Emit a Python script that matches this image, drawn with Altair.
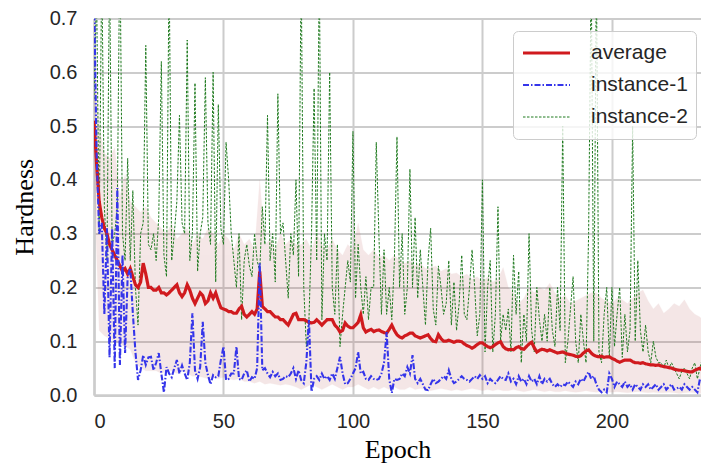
import altair as alt
import pandas as pd

# ---- data ----
series_names = ["average", "instance-1", "instance-2"]

avg = [
    0.51, 0.43, 0.36, 0.33, 0.31, 0.30, 0.28, 0.27, 0.26, 0.25,
    0.24, 0.23, 0.235, 0.225, 0.235, 0.22, 0.205, 0.20, 0.21, 0.245,
    0.225, 0.20, 0.20, 0.195, 0.195, 0.20, 0.19, 0.19, 0.186, 0.19,
    0.195, 0.20, 0.205, 0.19, 0.183, 0.19, 0.205, 0.195, 0.18, 0.17,
    0.18, 0.19, 0.185, 0.17, 0.175, 0.19, 0.18, 0.19, 0.175, 0.162,
    0.16, 0.158, 0.155, 0.155, 0.152, 0.152, 0.16, 0.165, 0.15, 0.145,
    0.15, 0.155, 0.15, 0.16, 0.23, 0.165, 0.16, 0.155, 0.155, 0.15,
    0.145, 0.145, 0.14, 0.14, 0.135, 0.13, 0.14, 0.15, 0.152, 0.14,
    0.14, 0.14, 0.138, 0.135, 0.134, 0.135, 0.14, 0.135, 0.13, 0.135,
    0.14, 0.14, 0.14, 0.13, 0.125, 0.117, 0.12, 0.134, 0.128, 0.125,
    0.125, 0.13, 0.135, 0.149, 0.125, 0.117, 0.12, 0.122, 0.118, 0.12,
    0.121, 0.118, 0.116, 0.115, 0.122, 0.13, 0.12, 0.112, 0.108, 0.106,
    0.11, 0.112, 0.115, 0.115, 0.11, 0.108, 0.106, 0.108, 0.11, 0.112,
    0.105, 0.10, 0.099, 0.112, 0.105, 0.10, 0.10, 0.102, 0.10, 0.098,
    0.10, 0.10, 0.099, 0.095, 0.092, 0.09, 0.087, 0.09, 0.094, 0.097,
    0.097, 0.093, 0.09, 0.088, 0.09, 0.094, 0.097, 0.099, 0.09, 0.086,
    0.084, 0.085, 0.084, 0.088, 0.09, 0.086, 0.085, 0.09, 0.095, 0.098,
    0.088, 0.08, 0.083, 0.085, 0.084, 0.082, 0.084, 0.082, 0.08, 0.078,
    0.079, 0.08, 0.078, 0.076, 0.075, 0.074, 0.072, 0.071, 0.073, 0.078,
    0.082, 0.084, 0.078, 0.074, 0.072, 0.071, 0.072, 0.07, 0.071, 0.071,
    0.068, 0.066, 0.063, 0.061, 0.063, 0.065, 0.065, 0.065, 0.062, 0.06,
    0.06, 0.059, 0.06, 0.058, 0.057, 0.056, 0.056, 0.055, 0.056, 0.054,
    0.053, 0.052, 0.051, 0.05, 0.048, 0.047, 0.046, 0.046, 0.045, 0.044,
    0.043, 0.043, 0.046, 0.048, 0.05, 0.046, 0.042, 0.041,
]

inst1 = [
    0.75, 0.45, 0.30, 0.32, 0.15, 0.31, 0.07, 0.31, 0.05, 0.385,
    0.056, 0.26, 0.078, 0.22, 0.236, 0.152, 0.08, 0.028, 0.046, 0.074,
    0.056, 0.07, 0.071, 0.046, 0.06, 0.078, 0.04, 0.005, 0.052, 0.04,
    0.033, 0.05, 0.065, 0.04, 0.055, 0.04, 0.028, 0.06, 0.152, 0.046,
    0.03, 0.052, 0.136, 0.06, 0.037, 0.02, 0.037, 0.033, 0.035, 0.065,
    0.09, 0.028, 0.03, 0.04, 0.04, 0.09, 0.03, 0.028, 0.04, 0.046,
    0.025, 0.033, 0.03, 0.05, 0.245, 0.046, 0.05, 0.04, 0.033, 0.043,
    0.035, 0.04, 0.028, 0.03, 0.035, 0.033, 0.04, 0.05, 0.03, 0.046,
    0.028, 0.022, 0.061, 0.14, 0.006, 0.03, 0.035, 0.028, 0.04, 0.03,
    0.035, 0.028, 0.04, 0.03, 0.05, 0.071, 0.04, 0.02, 0.022, 0.03,
    0.04, 0.05, 0.08, 0.04, 0.043, 0.03, 0.028, 0.035, 0.03, 0.028,
    0.03, 0.04, 0.06, 0.117, 0.03, 0.004, 0.03, 0.028, 0.03, 0.04,
    0.035, 0.052, 0.04, 0.074, 0.03, 0.022, 0.03, 0.02, 0.01, 0.009,
    0.02, 0.03, 0.022, 0.025, 0.03, 0.035, 0.03, 0.046, 0.03, 0.022,
    0.025, 0.03, 0.035, 0.03, 0.028, 0.025, 0.03, 0.035, 0.03, 0.037,
    0.03, 0.035, 0.022, 0.03, 0.025, 0.022, 0.028, 0.035, 0.03, 0.028,
    0.04, 0.025, 0.03, 0.02, 0.035, 0.025, 0.03, 0.02, 0.035, 0.025,
    0.03, 0.02, 0.035, 0.02, 0.03, 0.025, 0.03, 0.02, 0.015, 0.02,
    0.015, 0.02, 0.018, 0.025, 0.02, 0.015, 0.025, 0.02, 0.03, 0.025,
    0.035, 0.043, 0.03, 0.035, 0.02, 0.01, 0.005, 0.01, 0.005, 0.04,
    0.03, 0.015, 0.025, 0.02, 0.015, 0.025, 0.015, 0.02, 0.01, 0.02,
    0.015, 0.01, 0.02, 0.015, 0.02, 0.01, 0.015, 0.02, 0.01, 0.015,
    0.02, 0.01, 0.015, 0.02, 0.01, 0.012, 0.015, 0.01, 0.02, 0.015,
    0.01, 0.015, 0.01, 0.005, 0.03, 0.028, 0.01, 0.015,
]

inst2 = [
    0.55, 0.75, 0.30, 0.80, 0.35, 0.25, 0.80, 0.28, 0.30, 0.35,
    0.85, 0.30, 0.25, 0.44, 0.25, 0.38, 0.20, 0.13, 0.30, 0.32,
    0.65, 0.28, 0.27, 0.30, 0.25, 0.33, 0.62, 0.26, 0.22, 0.80,
    0.25, 0.30, 0.36, 0.52, 0.32, 0.30, 0.66, 0.25, 0.30, 0.58,
    0.23, 0.30, 0.33, 0.59, 0.32, 0.28, 0.60, 0.21, 0.54, 0.31,
    0.28, 0.47, 0.40, 0.30, 0.25, 0.20, 0.30, 0.14, 0.25, 0.28,
    0.24, 0.22, 0.30, 0.25, 0.23, 0.35, 0.28, 0.52, 0.25, 0.30,
    0.21, 0.56, 0.30, 0.32, 0.25, 0.18, 0.30, 0.26, 0.40, 0.22,
    0.80, 0.20, 0.09, 0.14, 0.30, 0.57, 0.25, 0.80, 0.14, 0.30,
    0.25, 0.60, 0.20, 0.15, 0.28, 0.09, 0.15, 0.20, 0.25, 0.21,
    0.49, 0.18, 0.28, 0.20, 0.15, 0.22, 0.14, 0.20, 0.20, 0.47,
    0.30, 0.15, 0.27, 0.15, 0.20, 0.14, 0.25, 0.48, 0.20, 0.30,
    0.15, 0.20, 0.42, 0.20, 0.33, 0.18, 0.27, 0.20, 0.13, 0.25,
    0.31, 0.16, 0.13, 0.24, 0.20, 0.15, 0.17, 0.25, 0.13, 0.21,
    0.12, 0.17, 0.26, 0.15, 0.14, 0.20, 0.27, 0.20, 0.11, 0.15,
    0.40, 0.08, 0.20, 0.25, 0.08, 0.15, 0.35, 0.10, 0.15, 0.12,
    0.16, 0.08, 0.26, 0.15, 0.23, 0.06, 0.15, 0.10, 0.30, 0.12,
    0.08, 0.20, 0.14, 0.10, 0.15, 0.10, 0.20, 0.12, 0.09, 0.20,
    0.12, 0.50, 0.06, 0.10, 0.16, 0.22, 0.10, 0.06, 0.15, 0.10,
    0.06, 0.30, 0.80, 0.10, 0.80, 0.08, 0.06, 0.15, 0.20, 0.07,
    0.20, 0.09, 0.15, 0.20, 0.07, 0.15, 0.08, 0.12, 0.50, 0.10,
    0.25, 0.12, 0.08, 0.13, 0.08, 0.06, 0.10, 0.07, 0.06, 0.06,
    0.05, 0.065, 0.05, 0.06, 0.05, 0.04, 0.03, 0.045, 0.05, 0.04,
    0.03, 0.05, 0.06, 0.03, 0.05, 0.07, 0.06, 0.06,
]

band_step = 2  # band sampled every 2 epochs
band_upper = [
    0.65, 0.50, 0.45, 0.44, 0.46, 0.37, 0.41, 0.36, 0.35, 0.34,
    0.35, 0.33, 0.32, 0.31, 0.30, 0.32, 0.29, 0.30, 0.31, 0.28,
    0.30, 0.29, 0.31, 0.30, 0.28, 0.30, 0.29, 0.27, 0.30, 0.28,
    0.29, 0.27, 0.40, 0.28, 0.29, 0.27, 0.30, 0.28, 0.29, 0.28,
    0.28, 0.29, 0.27, 0.30, 0.28, 0.27, 0.29, 0.27, 0.26, 0.28,
    0.27, 0.32, 0.27, 0.26, 0.27, 0.256, 0.26, 0.25, 0.26, 0.25,
    0.245, 0.25, 0.24, 0.245, 0.235, 0.236, 0.24, 0.23, 0.235, 0.225,
    0.227, 0.22, 0.225, 0.215, 0.22, 0.21, 0.22, 0.21, 0.215, 0.237,
    0.20, 0.19, 0.17, 0.18, 0.20, 0.19, 0.20, 0.195, 0.208, 0.19,
    0.18, 0.185, 0.17, 0.175, 0.18, 0.185, 0.19, 0.19, 0.18, 0.175,
    0.17, 0.18, 0.177, 0.17, 0.18, 0.19, 0.195, 0.175, 0.16, 0.17,
    0.152, 0.16, 0.17, 0.165, 0.177, 0.16, 0.15, 0.145, 0.134,
]
band_lower = [
    0.40, 0.12, 0.11, 0.105, 0.10, 0.095, 0.09, 0.085, 0.06, 0.05,
    0.045, 0.045, 0.045, 0.04, 0.045, 0.045, 0.04, 0.045, 0.04, 0.035,
    0.035, 0.033, 0.03, 0.033, 0.03, 0.033, 0.03, 0.028, 0.03, 0.025,
    0.025, 0.022, 0.025, 0.02, 0.022, 0.02, 0.018, 0.02, 0.018, 0.015,
    0.01, 0.015, 0.02, 0.015, 0.01, 0.015, 0.02, 0.015, 0.01, 0.015,
    0.015, 0.02, 0.015, 0.01, 0.015, 0.01, 0.015, 0.01, 0.015, 0.01,
    0.01, 0.015, 0.01, 0.012, 0.01, 0.008, 0.01, 0.012, 0.01, 0.008,
    0.01, 0.008, 0.01, 0.012, 0.01, 0.008, 0.01, 0.008, 0.01, 0.008,
    0.008, 0.01, 0.008, 0.006, 0.008, 0.01, 0.008, 0.006, 0.008, 0.006,
    0.006, 0.008, 0.006, 0.005, 0.006, 0.008, 0.006, 0.005, 0.006, 0.005,
    0.005, 0.006, 0.005, 0.004, 0.005, 0.006, 0.005, 0.004, 0.005, 0.004,
    0.004, 0.005, 0.004, 0.003, 0.004, 0.005, 0.004, 0.003, 0.004,
]

x_ticks = [0, 50, 100, 150, 200]
y_ticks = [0.0, 0.1, 0.2, 0.3, 0.4, 0.5, 0.6, 0.7]

# ---- tables ----
rows = []
for name, vals in zip(series_names, [avg, inst1, inst2]):
    for i, v in enumerate(vals):
        rows.append({"epoch": i, "value": v, "series": name})
lines_df = pd.DataFrame(rows)

n_band = min(len(band_upper), len(band_lower))
band_df = pd.DataFrame({
    "epoch": [i * band_step for i in range(n_band)],
    "upper": band_upper[:n_band],
    "lower": band_lower[:n_band],
})

# ---- scales / axes ----
x_scale = alt.Scale(domain=[0, 234.4], nice=False, zero=False)
y_scale = alt.Scale(domain=[0, 0.7], nice=False)

x_axis = alt.Axis(values=x_ticks, format="d", title="Epoch", labelPadding=16,
                  titlePadding=5)
y_axis = alt.Axis(values=y_ticks, format=".1f", title="Hardness", labelPadding=17,
                  titlePadding=12)

color_scale = alt.Scale(domain=series_names, range=["#d01a1e", "#3535ea", "#1f7a1f"])
dash_scale = alt.Scale(domain=series_names, range=[[1, 0], [6, 2, 1.5, 2], [2.5, 1.5]])
width_scale = alt.Scale(domain=series_names, range=[3.2, 1, 1.1])

legend = alt.Legend(
    title=None, orient="none", legendX=419, legendY=12.5, direction="vertical",
    fillColor="rgba(255,255,255,0.8)", strokeColor="#cccccc", cornerRadius=5,
    padding=8, labelFont="Liberation Sans", labelFontSize=21, labelColor="#262626",
    symbolType="stroke", symbolSize=2209, labelOffset=19, clipHeight=28,
    rowPadding=4,
)

base_x = alt.X("epoch:Q", scale=x_scale, axis=x_axis)

band = alt.Chart(band_df).mark_area(
    color="#b04848", opacity=0.13, stroke="#b04848", strokeWidth=1,
    strokeOpacity=0.2, clip=True,
).encode(
    x=base_x,
    y=alt.Y("upper:Q", scale=y_scale, axis=y_axis),
    y2="lower:Q",
)


def series_layer(name):
    return alt.Chart(lines_df).transform_filter(
        alt.datum.series == name
    ).mark_line(clip=True).encode(
        x=base_x,
        y=alt.Y("value:Q", scale=y_scale, axis=y_axis),
        color=alt.Color("series:N", scale=color_scale, legend=legend),
        strokeDash=alt.StrokeDash("series:N", scale=dash_scale, legend=legend),
        strokeWidth=alt.StrokeWidth("series:N", scale=width_scale, legend=legend),
        order="epoch:Q",
    )


chart = alt.layer(
    band,
    series_layer("instance-2"),
    series_layer("average"),
    series_layer("instance-1"),
).properties(
    width=607, height=376.5,
    autosize=alt.AutoSizeParams(type="none"),
    padding={"left": 86, "top": 10.5, "right": 0, "bottom": 70},
).configure_view(
    stroke=None,
).configure_axis(
    grid=True, gridColor="#cccccc", gridWidth=2,
    domainColor="#cccccc", domainWidth=2.5,
    ticks=False, tickSize=0,
    labelFont="Liberation Sans", labelFontSize=20, labelColor="#262626",
    titleFont="Liberation Serif", titleFontSize=26, titleFontWeight="normal",
    titleColor="#000000",
)

chart.save("out.html", embed_options={"renderer": "svg", "actions": False})
